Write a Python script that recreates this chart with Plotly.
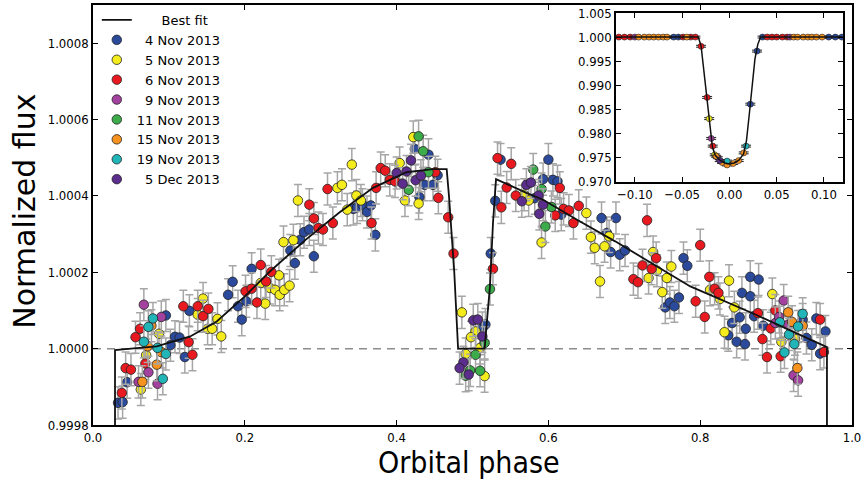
"""Phase-folded light curve with best fit and transit inset"""
import plotly.graph_objects as go

# ---- main panel: orbital phase vs flux offset (ppm above 1) ----
phase_nov04 = [0.033, 0.039, 0.045, 0.096, 0.102, 0.108, 0.114, 0.121, 0.127, 0.178, 0.184, 0.191,
               0.196, 0.202, 0.209, 0.260, 0.266, 0.273, 0.278, 0.285, 0.291, 0.343, 0.348, 0.355,
               0.361, 0.366, 0.372, 0.424, 0.442, 0.437, 0.448, 0.454, 0.430, 0.513, 0.517, 0.524,
               0.530, 0.537, 0.582, 0.593, 0.600, 0.606, 0.612, 0.617, 0.670, 0.677, 0.682, 0.689,
               0.694, 0.701, 0.754, 0.760, 0.766, 0.772, 0.778, 0.783, 0.866, 0.877, 0.855, 0.866,
               0.842, 0.852, 0.860, 0.837, 0.848, 0.859, 0.871, 0.883, 0.935, 0.940, 0.947, 0.953,
               0.965, 0.958]
ppm_nov04 = [-142, -140, -88, 87, 9, 31, 29, -22, 99, 141, 175, 111,
             76, 124, 209, 257, 224, 285, 305, 312, 242, 366, 370, 377,
             358, 375, 298, 523, 508, 429, 429, 454, 397, 54, 63, 249,
             387, 495, 394, 444, 495, 442, 438, 351, 342, 303, 253, 342,
             246, 257, 108, 121, 111, 134, 237, 217, 188, 181, 146, 137,
             67, 82, 52, 35, 18, 12, 85, 60, 76, 28, 10, 79,
             45, -13]

phase_nov05 = [0.070, 0.063, 0.087, 0.145, 0.138, 0.151, 0.157, 0.164, 0.169, 0.221, 0.227, 0.233,
               0.240, 0.245, 0.246, 0.252, 0.259, 0.251, 0.264, 0.270, 0.322, 0.328, 0.341, 0.335,
               0.347, 0.353, 0.404, 0.422, 0.411, 0.429, 0.486, 0.504, 0.498, 0.510, 0.491, 0.516,
               0.568, 0.574, 0.591, 0.650, 0.656, 0.661, 0.668, 0.674, 0.680, 0.732, 0.738, 0.743,
               0.750, 0.756, 0.762, 0.813, 0.826, 0.838, 0.845, 0.832, 0.895, 0.907, 0.925]
ppm_nov05 = [-17, -107, 39, 131, 89, 52, 52, 78, 32, 172, 118, 159,
             154, 192, 141, 154, 165, 279, 284, 388, 421, 429, 482, 364,
             401, 388, 486, 554, 388, 380, 95, 45, 30, 2, -14, -72,
             403, 388, 278, 355, 292, 264, 176, 268, 294, 185, 253, 204,
             148, 185, 215, 154, 130, 178, 108, 43, 143, 18, 25]

phase_nov06 = [0.038, 0.043, 0.050, 0.056, 0.062, 0.069, 0.126, 0.131, 0.119, 0.138, 0.145, 0.152,
               0.201, 0.209, 0.216, 0.221, 0.228, 0.235, 0.285, 0.291, 0.297, 0.303, 0.316, 0.309,
               0.367, 0.373, 0.379, 0.385, 0.391, 0.398, 0.451, 0.455, 0.468, 0.475, 0.527, 0.538,
               0.533, 0.551, 0.545, 0.557, 0.615, 0.609, 0.620, 0.627, 0.633, 0.640, 0.730, 0.712,
               0.718, 0.724, 0.742, 0.736, 0.800, 0.812, 0.819, 0.824, 0.794, 0.806, 0.876, 0.882,
               0.888, 0.893, 0.899, 0.906, 0.958, 0.963]
ppm_nov06 = [-116, -51, -55, 30, 52, -39, 17, -16, 111, 111, 85, 104,
             150, 157, 121, 219, 176, 201, 377, 341, 316, 312, 329, 418,
             329, 421, 473, 466, 442, 438, 462, 395, 344, 249, 209, 370,
             499, 484, 422, 401, 421, 349, 366, 362, 329, 374, 336, 182,
             174, 218, 237, 209, 271, 188, 157, 146, 124, 83, 93, 25,
             -22, 53, 100, -20, 76, -9]

phase_nov09 = [0.067, 0.073, 0.060, 0.085, 0.090, 0.910, 0.899, 0.904, 0.916, 0.923, 0.929]
ppm_nov09 = [115, -62, -87, -92, 83, 126, 67, 83, 63, -70, -83]

phase_nov11 = [0.429, 0.435, 0.416, 0.442, 0.516, 0.504, 0.497, 0.491, 0.510, 0.523, 0.580, 0.591,
               0.596, 0.604]
ppm_nov11 = [556, 517, 416, 462, 15, -16, -57, -71, -58, 156, 469, 418,
             320, 371]

phase_nov15 = [0.065, 0.077, 0.072, 0.084, 0.090, 0.916, 0.921, 0.935, 0.928]
ppm_nov15 = [-87, 60, 6, -42, -9, 95, 70, 60, -51]

phase_nov19 = [0.067, 0.073, 0.079, 0.085, 0.096, 0.092, 0.905, 0.929, 0.935, 0.917, 0.924, 0.911]
ppm_nov19 = [18, 57, 79, 2, -14, -79, 69, 58, 91, 37, 12, -10]

phase_dec05 = [0.400, 0.408, 0.413, 0.419, 0.425, 0.432, 0.501, 0.507, 0.513, 0.488, 0.483, 0.495,
               0.565, 0.571, 0.577, 0.587, 0.588, 0.593]
ppm_dec05 = [460, 432, 464, 493, 441, 453, 74, 76, 32, -36, -51, -68,
             386, 429, 435, 401, 353, 377]

ppm_err = 42

fit_phase = [0.029, 0.029, 0.050, 0.084, 0.128, 0.163, 0.200, 0.233, 0.280, 0.325, 0.369, 0.413,
             0.448, 0.466, 0.469, 0.472, 0.476, 0.481, 0.516, 0.520, 0.523, 0.527, 0.531, 0.571,
             0.593, 0.640, 0.688, 0.787, 0.872, 0.967, 0.967]
fit_ppm = [-200, -4, 0, 6, 32, 71, 137, 202, 285, 357, 421, 462,
           470, 470, 400, 310, 200, 0, 0, 95, 163, 329, 444, 408,
           390, 335, 281, 163, 90, 4, -200]

# ---- inset: primary transit ----
inset_x_nov04 = [-0.059, -0.054, 0.035, 0.105, 0.112, 0.119, 0.0221, 0.0292]
inset_f_nov04 = [1.0, 1.0, 1.0, 1.0, 1.0, 1.0, 0.9861, 0.9971]
inset_x_nov05 = [-0.0214, -0.0155]
inset_f_nov05 = [0.9831, 0.9756]
inset_x_nov06 = [-0.117, -0.111, -0.105, -0.049, -0.041, -0.036, 0.040, 0.045, 0.050, 0.056, 0.061,
                 -0.030, -0.0236, -0.0176]
inset_f_nov06 = [1.0, 1.0, 1.0, 1.0, 1.0, 1.0, 1.0, 1.0, 1.0, 1.0, 1.0,
                 0.9981, 0.9875, 0.9774]
inset_x_nov09 = [-0.100, 0.064, -0.0193, -0.0123]
inset_f_nov09 = [1.0, 1.0, 0.9790, 0.9750]
inset_x_nov15 = [-0.096, -0.090, -0.085, -0.080, -0.075, -0.070, -0.066, -0.045, 0.068, 0.072,
                 0.078, 0.083, 0.087, 0.092, 0.098, -0.0140, -0.0077, -0.0025, 0.0039, 0.0098, 0.0151]
inset_f_nov15 = [1.0, 1.0, 1.0, 1.0, 1.0, 1.0, 1.0, 1.0, 1.0, 1.0,
                 1.0, 1.0, 1.0, 1.0, 1.0, 0.9753, 0.9740, 0.9735, 0.9738, 0.9744, 0.9760]
inset_x_nov19 = [-0.0025, 0.0176]
inset_f_nov19 = [0.9743, 0.9774]
inset_x_dec05 = [-0.0102]
inset_f_dec05 = [0.9744]

inset_fit_x = [-0.120, -0.033, -0.030, -0.027, -0.024, -0.021, -0.018, -0.015, -0.010, -0.005, 0.000,
               0.005, 0.010, 0.015, 0.018, 0.021, 0.024, 0.027, 0.030, 0.033, 0.120]
inset_fit_f = [1.0, 1.0, 0.9982, 0.9930, 0.9875, 0.9820, 0.9772, 0.9755, 0.9745, 0.9739, 0.9737,
               0.9739, 0.9745, 0.9758, 0.9785, 0.9840, 0.9900, 0.9955, 0.9985, 1.0, 1.0]

nights = [
    ("4 Nov 2013", "#2b4a9c", phase_nov04, ppm_nov04, inset_x_nov04, inset_f_nov04),
    ("5 Nov 2013", "#f4ec1c", phase_nov05, ppm_nov05, inset_x_nov05, inset_f_nov05),
    ("6 Nov 2013", "#e8191f", phase_nov06, ppm_nov06, inset_x_nov06, inset_f_nov06),
    ("9 Nov 2013", "#a2429e", phase_nov09, ppm_nov09, inset_x_nov09, inset_f_nov09),
    ("11 Nov 2013", "#3cab4a", phase_nov11, ppm_nov11, [], []),
    ("15 Nov 2013", "#f7921e", phase_nov15, ppm_nov15, inset_x_nov15, inset_f_nov15),
    ("19 Nov 2013", "#22b5b8", phase_nov19, ppm_nov19, inset_x_nov19, inset_f_nov19),
    ("5 Dec 2013", "#5b2d8c", phase_dec05, ppm_dec05, inset_x_dec05, inset_f_dec05),
]

CONDENSED = "DejaVu Sans Condensed, DejaVu Sans"
TICK_FONT = dict(family=CONDENSED, size=13, color="black")
FIG = "\u2007"


def _flux(ppm):
    return [1 + v * 1e-6 for v in ppm]


def _legend_name(name):
    # right-align the legend labels as in the original
    return FIG + name if len(name.split()[0]) == 1 else name


def _frame(**kw):
    base = dict(showline=True, linecolor="black", linewidth=1.5, mirror="ticks",
                ticks="inside", ticklen=5, tickcolor="black", showgrid=False,
                zeroline=False, tickfont=TICK_FONT, automargin=False)
    base.update(kw)
    return base


fig = go.Figure()

for name, color, ph, ppm, ix, ifl in nights:
    fig.add_trace(go.Scatter(
        x=ph, y=_flux(ppm), mode="markers", name=_legend_name(name), legendgroup=name,
        marker=dict(size=9.5, color=color, line=dict(color="#222222", width=0.8)),
        error_y=dict(type="constant", value=ppm_err * 1e-6, color="#a6a6a6",
                     thickness=1.5, width=4),
        xaxis="x", yaxis="y",
    ))

fig.add_trace(go.Scatter(
    x=fit_phase, y=_flux(fit_ppm), mode="lines", name=FIG * 3 + "Best fit",
    line=dict(color="#111111", width=1.8), legendrank=1, xaxis="x", yaxis="y",
))

for name, color, ph, ppm, ix, ifl in nights:
    if not ix:
        continue
    fig.add_trace(go.Scatter(
        x=ix, y=ifl, mode="markers", legendgroup=name, showlegend=False,
        marker=dict(size=6, color=color, line=dict(color="#222222", width=0.6)),
        error_y=dict(type="constant", value=0.0002, color="#222222", thickness=1, width=5),
        xaxis="x2", yaxis="y2",
    ))

fig.add_trace(go.Scatter(
    x=inset_fit_x, y=inset_fit_f, mode="lines", showlegend=False,
    line=dict(color="#111111", width=1.5), xaxis="x2", yaxis="y2",
))

fig.add_shape(type="line", xref="x domain", yref="y", x0=0, x1=1, y0=1.0, y1=1.0,
              line=dict(color="#8c8c8c", width=1.5, dash="8px,6px"), layer="below")

# axis titles placed as annotations so the frame keeps its exact size
fig.add_annotation(text="Normalized flux", xref="paper", yref="paper", x=-0.0896, y=0.51,
                   textangle=-90, showarrow=False, xanchor="center", yanchor="middle",
                   font=dict(family="DejaVu Sans", size=30, color="black"))
fig.add_annotation(text="Orbital phase", xref="paper", yref="paper", x=0.495, y=-0.09,
                   showarrow=False, xanchor="center", yanchor="middle",
                   font=dict(family=CONDENSED, size=30, color="black"))

fig.update_layout(
    width=863, height=482,
    margin=dict(l=93, r=11, t=5, b=57, autoexpand=False),
    plot_bgcolor="white", paper_bgcolor="white",
    showlegend=True,
    legend=dict(x=0.005, y=1.0, xanchor="left", yanchor="top", bgcolor="rgba(0,0,0,0)",
                font=dict(family="DejaVu Sans", size=13, color="black"), tracegroupgap=0),
    xaxis=_frame(range=[0, 1], tickvals=[0, 0.2, 0.4, 0.6, 0.8, 1.0], tickformat=".1f"),
    yaxis=_frame(range=[0.9998, 1.0009],
                 tickvals=[0.9998, 1.0, 1.0002, 1.0004, 1.0006, 1.0008], tickformat=".4f"),
    xaxis2=_frame(domain=[0.689, 0.988], anchor="y2", range=[-0.12, 0.12],
                  tickvals=[-0.10, -0.05, 0.0, 0.05, 0.10], tickformat=".2f"),
    yaxis2=_frame(domain=[0.579, 0.981], anchor="x2", range=[0.970, 1.005],
                  tickvals=[0.970, 0.975, 0.980, 0.985, 0.990, 0.995, 1.000, 1.005],
                  tickformat=".3f"),
)

# the page's default body margin would push the figure off the window
fig.write_html("out.html", config={"displayModeBar": False},
               post_script="document.body.style.margin = '0';")
